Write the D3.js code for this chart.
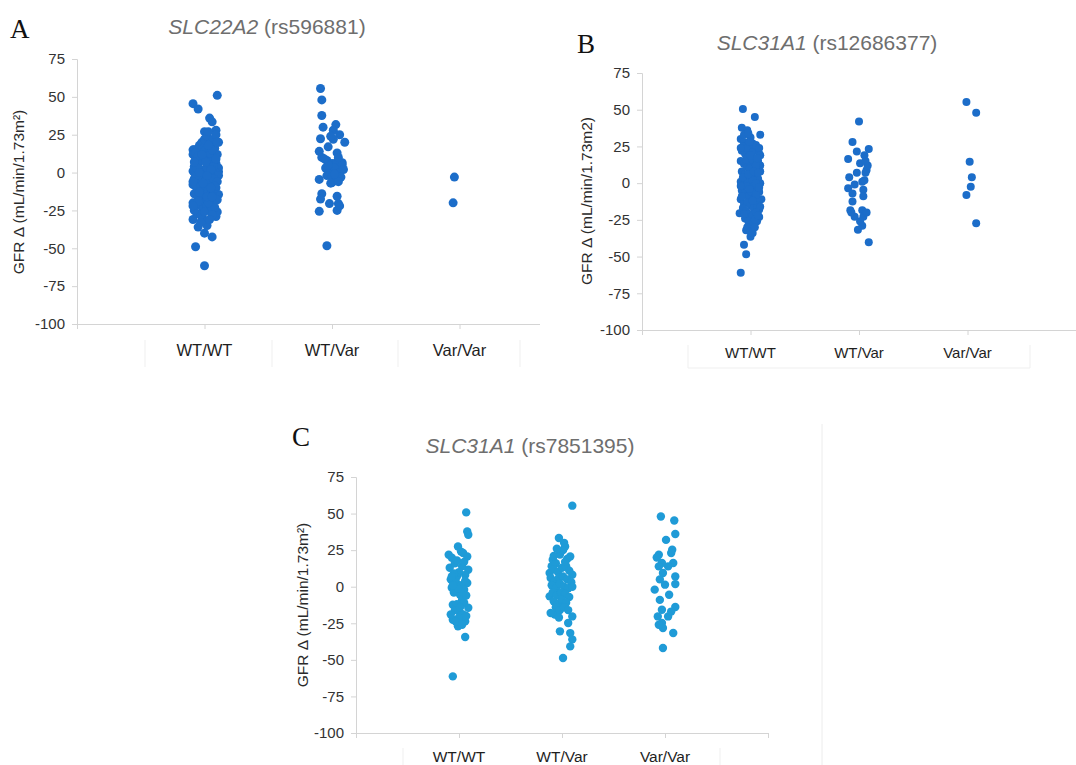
<!DOCTYPE html>
<html>
<head>
<meta charset="utf-8">
<script src="https://cdn.jsdelivr.net/npm/d3@7"></script>
<style>
  body { margin: 0; background: #fff; }
  svg { display: block; }
</style>
</head>
<body>
<svg id="viz" width="1076" height="765"></svg>
<script>
// Categories and axis ticks
const categories = ["WT/WT", "WT/Var", "Var/Var"];
const yTicks = [75, 50, 25, 0, -25, -50, -75, -100];

// Points are [x offset from the category (category units), GFR delta]
// Panel A - SLC22A2 (rs596881)
const a_wtwt = [
  [0.10, 51], [-0.09, 45.5], [-0.05, 42], [0.04, 36], [0.06, 33.5], [0.09, 28], [0.00, 27], [0.11, 20], [-0.09, 15],
  [0.11, 0.5], [0.11, -14.5], [-0.07, -49], [0.00, -61.5], [0.00, -40], [0.06, -42.5], [-0.05, -36], [0.02, -35],
  [-0.09, -31], [-0.01, -31], [0.09, -29], [0.10, -26],
  [-0.08, 15], [-0.06, 14], [-0.09, 12], [-0.04, 18], [-0.02, 20], [0.00, 22], [0.02, 24], [0.05, 19], [0.08, 16], [0.10, 12],
  [-0.07, 9], [-0.05, 6], [-0.08, 4], [-0.03, 8], [0.00, 10], [0.03, 11], [0.06, 8], [0.09, 6], [0.11, 3], [0.04, 5],
  [-0.09, 1], [-0.06, -1], [-0.03, 2], [0.00, 0], [0.02, 3], [0.05, -1], [0.08, 1], [0.11, -2], [-0.08, -4], [-0.05, -6],
  [-0.02, -3], [0.01, -5], [0.04, -7], [0.07, -4], [0.10, -6], [-0.09, -8], [-0.06, -10], [-0.03, -9], [0.00, -12], [0.03, -11],
  [0.06, -13], [0.09, -10], [-0.08, -14], [-0.05, -16], [-0.02, -18], [0.01, -15], [0.04, -17], [0.07, -19], [0.10, -18],
  [-0.09, -20], [-0.07, -22], [-0.04, -21], [-0.01, -24], [0.02, -22], [0.05, -25], [0.08, -23], [-0.06, -27], [-0.03, -28],
  [0.00, -26], [0.06, -28], [-0.08, -25], [-0.05, -19], [0.03, -20], [-0.07, 13], [-0.01, 16], [0.07, 22], [0.09, 25], [0.03, 27],
  [-0.05, 11], [0.01, 7], [0.07, 4], [-0.07, -2], [0.05, 2], [-0.01, -7], [0.08, -9], [-0.04, -13], [0.02, -16], [0.05, -10],
  [-0.06, 3], [0.00, 14], [0.04, 13], [0.06, 15], [-0.02, 12], [-0.04, 0], [0.09, 9], [0.06, -16], [-0.08, 7], [0.02, -2],
  [-0.09, -6], [-0.09, -22], [0.10, 20], [0.03, 18], [-0.03, -33], [0.04, -31]
];
const a_wtvar = [
  [-0.09, 55.5], [-0.08, 48], [-0.08, 37.7], [-0.07, 30], [-0.09, 22.3], [-0.10, 14], [-0.08, 10], [0.03, 31.7], [0.01, 28],
  [0.06, 25], [0.10, 20], [-0.03, 17], [0.04, 13], [0.01, 22], [-0.01, 24], [0.08, 6.5], [0.06, 2], [-0.10, -4.5], [0.00, -6.6],
  [-0.08, -14], [-0.09, -17.5], [-0.10, -25.6], [-0.02, -20.5], [0.04, -15.6], [0.05, -20.5], [0.04, -25], [0.06, -22],
  [-0.04, -48.3],
  [-0.04, 8], [0.00, 6], [0.04, 7], [0.08, 5], [-0.05, 3], [-0.02, 1], [0.02, 3], [0.06, 0], [0.09, 2], [-0.04, -2],
  [0.00, -3], [0.03, -5], [0.07, -3], [-0.01, -7], [0.05, -6], [0.02, -1], [-0.03, 5], [0.05, 10], [-0.06, 9]
];
const a_varvar = [[-0.04, -3], [-0.05, -20]];

// Panel B - SLC31A1 (rs12686377)
const b_wtwt = [
  [-0.07, 50.5], [0.04, 45], [0.09, 33], [-0.08, 37.7], [-0.03, 36], [0.08, 20], [0.09, 12], [0.09, 0], [0.10, -11],
  [-0.10, -20.5], [0.08, -18], [0.06, -26], [-0.04, -32], [0.00, -36.5], [-0.06, -42], [-0.04, -48.5], [-0.09, -61],
  [-0.09, 30], [-0.06, 28], [-0.03, 26], [0.00, 31], [0.03, 24], [0.06, 22], [-0.08, 22], [-0.05, 20], [-0.02, 18], [0.01, 21],
  [0.04, 17], [0.07, 15], [0.09, 19], [-0.09, 15], [-0.06, 13], [-0.03, 11], [0.00, 14], [0.03, 12], [0.06, 9], [0.09, 8],
  [-0.08, 8], [-0.05, 6], [-0.02, 4], [0.01, 7], [0.04, 5], [0.07, 3], [-0.09, 1], [-0.06, -1], [-0.03, 2], [0.00, 0],
  [0.03, -2], [0.06, -4], [0.08, -6], [-0.08, -5], [-0.05, -7], [-0.02, -9], [0.01, -6], [0.04, -10], [0.07, -12],
  [-0.09, -11], [-0.06, -14], [-0.03, -13], [0.00, -15], [0.03, -17], [0.06, -15], [0.09, -16], [-0.07, -17], [-0.04, -19],
  [-0.01, -21], [0.02, -22], [0.05, -20], [0.08, -23], [-0.05, -24], [-0.02, -26], [0.01, -28], [0.04, -25], [0.07, -22],
  [-0.03, -30], [0.00, -33], [0.02, -34], [-0.06, 33], [-0.02, 34], [0.02, 27], [0.05, 26], [0.08, 24], [-0.07, 25],
  [-0.04, 16], [-0.01, 10], [0.02, 16], [0.05, 12], [-0.07, 4], [-0.04, -2], [0.02, 2], [0.05, 0], [-0.01, -4], [0.05, -8],
  [-0.08, -9], [-0.02, 6], [0.03, 8], [0.00, 19], [-0.04, 24], [0.06, 17], [0.02, -12], [-0.06, -21], [0.08, -3],
  [-0.09, 24], [-0.09, -2], [0.07, 7], [0.04, -30], [-0.01, 28]
];
const b_wtvar = [
  [0.00, 42], [-0.06, 28], [0.09, 23.3], [-0.02, 21.5], [-0.10, 16.4], [0.05, 19], [0.01, 13.6], [0.07, 9], [-0.09, 4],
  [0.03, 1], [-0.04, -1], [-0.10, -3.5], [-0.06, -7], [0.04, -4.5], [0.04, -9], [-0.06, -12.5], [-0.08, -18.5], [0.03, -18.5],
  [-0.04, -22.8], [0.04, -22.8], [-0.01, -31.7], [0.03, -29], [0.09, -40.3], [0.06, 7], [-0.02, 7], [0.08, 12], [0.06, 15],
  [-0.07, -20], [0.07, -20], [0.01, -26], [0.05, 2]
];
const b_varvar = [[-0.01, 55.3], [0.08, 48], [0.02, 14.5], [0.04, 4], [0.03, -2.4], [-0.01, -8], [0.08, -27.3]];

// Panel C - SLC31A1 (rs7851395)
const c_wtwt = [
  [0.07, 50.8], [0.08, 37.8], [0.09, 35.5], [-0.06, -61.3], [0.06, -34.4], [-0.01, 27.5], [-0.10, 21.8], [-0.07, 19.8],
  [0.04, 23], [0.08, 20.7], [-0.09, 13], [0.09, 11.6], [-0.02, 7], [-0.07, -0.7], [0.08, 2.5], [0.01, -5.5], [-0.06, -12.3],
  [0.09, -14.4], [0.01, -17.8], [-0.06, -22.6], [0.06, -23.7], [-0.01, -27],
  [0.02, 24], [-0.04, 16], [0.03, 14], [0.06, 8], [-0.08, 5], [-0.03, 3], [0.02, 1], [0.05, -2], [-0.05, -4], [0.03, -9],
  [-0.02, -12], [0.05, -11], [-0.04, -16], [0.04, -19], [-0.08, -19], [0.00, -21], [0.07, -20], [-0.03, -24], [0.03, -26],
  [0.00, 10], [-0.05, 9], [0.06, 4], [-0.01, -1], [-0.06, 1], [0.07, -6], [0.01, -14], [-0.02, 18], [0.05, 17], [-0.07, 7]
];
const c_wtvar = [
  [0.10, 55.4], [-0.03, 33.3], [0.03, 27.5], [0.08, 20.7], [-0.09, 18.5], [-0.12, 9.4], [0.10, 8.2], [-0.12, -6.6],
  [-0.07, -19], [0.10, -20.3], [0.06, -24.8], [-0.02, -30.5], [0.08, -31.7], [0.10, -36], [0.08, -40.8], [0.01, -48.7],
  [-0.10, 14], [-0.06, 16], [-0.02, 22], [0.01, 25], [0.05, 19], [-0.08, 12], [-0.04, 10], [0.00, 13], [0.04, 14], [0.07, 11],
  [-0.11, 6], [-0.07, 4], [-0.03, 6], [0.01, 7], [0.05, 5], [0.09, 3], [-0.10, 1], [-0.06, -1], [-0.02, 2], [0.02, 0],
  [0.06, -1], [0.10, 0], [-0.09, -4], [-0.05, -6], [-0.01, -4], [0.03, -5], [0.07, -7], [-0.08, -10], [-0.04, -12],
  [0.00, -9], [0.04, -11], [-0.06, -14], [-0.02, -16], [0.02, -14], [-0.11, -18], [0.02, 30], [-0.05, 26], [0.03, 17],
  [-0.08, 21], [0.06, -16], [-0.03, -21]
];
const c_varvar = [
  [-0.04, 48], [0.09, 45.3], [0.10, 36], [0.01, 32], [0.07, 25.3], [-0.06, 21.9], [0.08, 16.2], [-0.03, 16.2], [-0.02, 9.4],
  [0.10, 7], [0.10, 1.8], [0.00, 1.4], [-0.10, -2], [0.04, -5.5], [-0.05, -9], [0.10, -13.9], [-0.03, -15.7], [-0.07, -20.3],
  [0.03, -20.3], [-0.03, -24.8], [-0.02, -28.2], [0.08, -31.6], [-0.02, -41.9], [-0.06, 13.9], [0.03, 13.9], [-0.08, 20],
  [0.06, 23], [-0.05, 5], [0.06, -17], [-0.06, -26]
];

const font = "'Liberation Sans', Arial, sans-serif";
const svg = d3.select("#viz");

// Panel layout: x0/x1 = axis ends for x in [0, 4], yTop/yBot = pixel of 75 and -100
const panels = [
  { letter: "A", gene: "SLC22A2", snp: " (rs596881)", unit: "GFR \u0394 (mL/min/1.73m\u00B2)",
    x0: 77, x1: 587, yTop: 59, yBot: 324, clipL: 0, clipR: 540, color: "#1c6dc9", r: 4.5,
    letterX: 10, letterY: 38, titleX: 267, titleY: 34, labX: 24, labY: 192, catY: 356, catSize: 16.5,
    box: [145, 272, 398, 520], boxY: [340, 367], boxBottom: false,
    groups: [a_wtwt, a_wtvar, a_varvar] },
  { letter: "B", gene: "SLC31A1", snp: " (rs12686377)", unit: "GFR \u0394 (mL/min/1.73m2)",
    x0: 642, x1: 1076, yTop: 73, yBot: 330, clipL: 540, clipR: 1076, color: "#1c6dc9", r: 4,
    letterX: 577, letterY: 53, titleX: 827, titleY: 50, labX: 592, labY: 201, catY: 358, catSize: 15,
    box: [688, 1030], boxY: [345, 368], boxBottom: true,
    groups: [b_wtwt, b_wtvar, b_varvar] },
  { letter: "C", gene: "SLC31A1", snp: " (rs7851395)", unit: "GFR \u0394 (mL/min/1.73m\u00B2)",
    x0: 356, x1: 768, yTop: 477, yBot: 733, clipL: 260, clipR: 822, color: "#1f9bd7", r: 4.2,
    letterX: 292, letterY: 446, titleX: 530, titleY: 453, labX: 308, labY: 605, catY: 762, catSize: 15.5,
    box: [403, 720], boxY: [748, 765], boxBottom: false,
    groups: [c_wtwt, c_wtvar, c_varvar] }
];

// faint frame right of panel C
svg.append("line").attr("x1", 822).attr("x2", 822).attr("y1", 424).attr("y2", 765)
  .attr("stroke", "#ececec").attr("stroke-width", 1);

panels.forEach((p, i) => {
  const clipId = "clip" + i;
  svg.append("clipPath").attr("id", clipId)
    .append("rect").attr("x", p.clipL).attr("y", 0).attr("width", p.clipR - p.clipL).attr("height", 765);
  const g = svg.append("g").attr("clip-path", `url(#${clipId})`);

  const x = d3.scaleLinear().domain([0, 4]).range([p.x0, p.x1]);
  const y = d3.scaleLinear().domain([75, -100]).range([p.yTop, p.yBot]);

  // faint cells round the category labels
  p.box.forEach(bx => {
    g.append("line").attr("x1", bx).attr("x2", bx).attr("y1", p.boxY[0]).attr("y2", p.boxY[1])
      .attr("stroke", "#efefef");
  });
  if (p.boxBottom) {
    g.append("line").attr("x1", p.box[0]).attr("x2", p.box[p.box.length - 1])
      .attr("y1", p.boxY[1]).attr("y2", p.boxY[1]).attr("stroke", "#efefef");
  }

  // y axis, plain hyphen for negatives
  const yAxis = g.append("g").attr("transform", `translate(${p.x0},0)`)
    .call(d3.axisLeft(y).tickValues(yTicks).tickSize(5).tickPadding(7).tickFormat(d => String(d)));
  yAxis.select(".domain").attr("stroke", "#d4d4d4");
  yAxis.selectAll(".tick line").attr("stroke", "#d4d4d4");
  yAxis.selectAll("text").attr("font-family", font).attr("font-size", 15).attr("fill", "#333");

  // x axis along -100
  const xAxis = g.append("g").attr("transform", `translate(0,${y(-100)})`)
    .call(d3.axisBottom(x).tickValues([0, 1, 2, 3, 4]).tickSize(5).tickFormat(""));
  xAxis.select(".domain").attr("stroke", "#d4d4d4");
  xAxis.selectAll(".tick line").attr("stroke", "#d4d4d4");

  g.selectAll(".cat").data(categories).join("text")
    .attr("x", (d, k) => x(k + 1)).attr("y", p.catY)
    .attr("text-anchor", "middle").attr("font-family", font).attr("font-size", p.catSize)
    .attr("fill", "#1e1e1e").text(d => d);

  // points
  p.groups.forEach((pts, k) => {
    g.append("g").attr("fill", p.color)
      .selectAll("circle").data(pts).join("circle")
      .attr("cx", d => x(k + 1 + d[0])).attr("cy", d => y(d[1])).attr("r", p.r);
  });

  // titles
  const t = g.append("text").attr("x", p.titleX).attr("y", p.titleY).attr("text-anchor", "middle")
    .attr("font-family", font).attr("font-size", 21).attr("fill", "#6e6e6e");
  t.append("tspan").attr("font-style", "italic").text(p.gene);
  t.append("tspan").text(p.snp);

  g.append("text").attr("x", p.letterX).attr("y", p.letterY)
    .attr("font-family", "'Liberation Serif', 'Times New Roman', serif").attr("font-size", 27)
    .attr("fill", "#111").text(p.letter);

  g.append("text").attr("transform", `translate(${p.labX},${p.labY}) rotate(-90)`)
    .attr("text-anchor", "middle").attr("font-family", font).attr("font-size", 15.5)
    .attr("fill", "#2a2a2a").text(p.unit);
});
</script>
</body>
</html>
